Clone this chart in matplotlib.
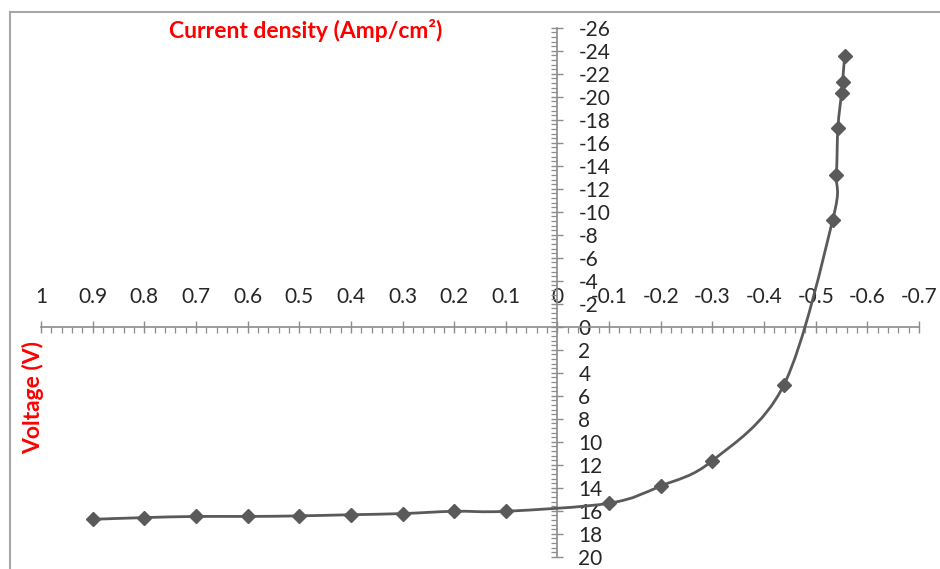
import numpy as np
import matplotlib
matplotlib.use("Agg")
import matplotlib.pyplot as plt
from matplotlib.path import Path
from matplotlib.patches import PathPatch
from matplotlib.lines import Line2D
from matplotlib.ticker import MultipleLocator, FuncFormatter

plt.rcParams["font.family"] = ["Lato", "DejaVu Sans"]
plt.rcParams["axes.unicode_minus"] = False

# J-V measurement points
voltage = [0.9, 0.8, 0.7, 0.6, 0.5, 0.4, 0.3, 0.2, 0.1, -0.1, -0.2, -0.3,
           -0.438, -0.533, -0.540, -0.543, -0.550, -0.552, -0.556]
current = [16.75, 16.6, 16.5, 16.5, 16.45, 16.35, 16.25, 16.05, 16.05, 15.35,
           13.85, 11.65, 5.1, -9.3, -13.2, -17.3, -20.3, -21.3, -23.5]

x_title = "Current density (Amp/cm\u00b2)"
y_title = "Voltage (V)"

line_color = "#5a5a5a"
axis_color = "#8c8c8c"
label_red = "#ff0000"

W, H = 940, 569
fig = plt.figure(figsize=(W / 100, H / 100), dpi=100)
fig.patch.set_facecolor("white")

ax = fig.add_axes([41 / W, 12.3 / H, 878 / W, 529 / H])
ax.set_xlim(1, -0.7)
ax.set_ylim(20, -26)
ax.patch.set_alpha(0)

for s in ("left", "bottom"):
    ax.spines[s].set_visible(False)
ax.spines["top"].set_position(("data", 0))
ax.spines["right"].set_position(("data", 0))
for s in ("top", "right"):
    ax.spines[s].set_color(axis_color)
    ax.spines[s].set_linewidth(1.2)

ax.xaxis.set_ticks_position("top")
ax.yaxis.set_ticks_position("right")
ax.xaxis.set_major_locator(MultipleLocator(0.1))
ax.xaxis.set_minor_locator(MultipleLocator(0.02))
ax.yaxis.set_major_locator(MultipleLocator(2))
ax.yaxis.set_minor_locator(MultipleLocator(0.4))
ax.xaxis.set_major_formatter(FuncFormatter(lambda v, p: f"{round(v, 2):g}" if abs(v) > 1e-9 else "0"))
ax.yaxis.set_major_formatter(FuncFormatter(lambda v, p: f"{int(round(v))}"))

ax.tick_params(axis="x", which="major", direction="inout", length=8, width=1.0,
               color=axis_color, pad=10, labelsize=15, labelcolor="#262626")
ax.tick_params(axis="x", which="minor", direction="in", length=4, width=0.9,
               color=axis_color)
ax.tick_params(axis="y", which="major", direction="inout", length=8, width=1.0,
               color=axis_color, pad=11, labelsize=15, labelcolor="#262626")
ax.tick_params(axis="y", which="minor", direction="in", length=4, width=0.9,
               color=axis_color)

# smoothed connecting curve (Catmull-Rom as cubic Bezier segments)
pts = np.column_stack([voltage, current]).astype(float)
n = len(pts)
verts = [tuple(pts[0])]
codes = [Path.MOVETO]
for i in range(n - 1):
    p0 = pts[i - 1] if i > 0 else pts[i]
    p1, p2 = pts[i], pts[i + 1]
    p3 = pts[i + 2] if i + 2 < n else pts[i + 1]
    c1 = p1 + (p2 - p0) / 6.0
    c2 = p2 - (p3 - p1) / 6.0
    verts += [tuple(c1), tuple(c2), tuple(p2)]
    codes += [Path.CURVE4] * 3
ax.add_patch(PathPatch(Path(verts, codes), facecolor="none", edgecolor=line_color,
                       lw=2.0, capstyle="round", joinstyle="round", zorder=3))
ax.plot(voltage, current, linestyle="none", marker="D", markersize=7.5,
        color=line_color, zorder=4)

fig.text(306 / W, 1 - 31 / H, x_title, color=label_red, fontsize=16.5,
         fontweight="bold", ha="center", va="center")
fig.text(33 / W, 1 - 397 / H, y_title, color=label_red, fontsize=16.5,
         fontweight="bold", ha="center", va="center", rotation=90)

# chart frame
frame = "#a6a6a6"
fig.add_artist(Line2D([10 / W, 10 / W], [0, 1 - 12 / H], color=frame, lw=1.5,
                      transform=fig.transFigure))
fig.add_artist(Line2D([10 / W, 1], [1 - 12 / H, 1 - 12 / H], color=frame, lw=1.5,
                      transform=fig.transFigure))

fig.savefig("out.png", dpi=100)
